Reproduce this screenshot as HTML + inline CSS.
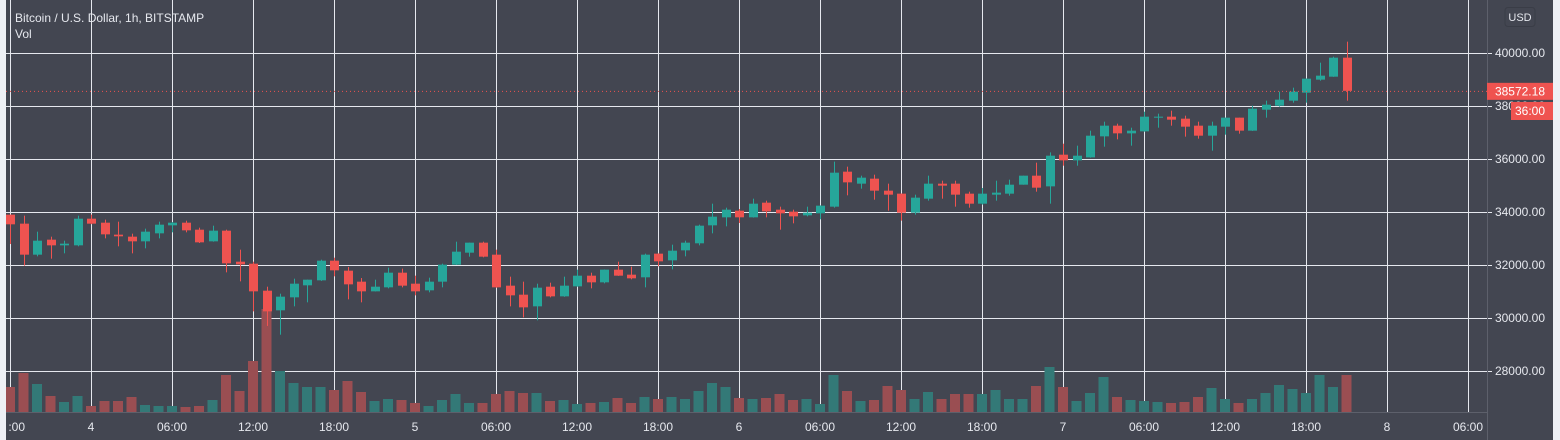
<!DOCTYPE html>
<html><head><meta charset="utf-8">
<style>
html,body{margin:0;padding:0;background:#434651;}
#wrap{position:relative;width:1560px;height:440px;overflow:hidden;background:#434651;font-family:"Liberation Sans",sans-serif;}
svg{position:absolute;left:0;top:0;}
</style></head>
<body>
<div id="wrap">
<svg id="chart" width="1560" height="440"></svg>
</div>
<script>
const priceTicks=[40000,38000,36000,34000,32000,30000,28000];
const timeLabels=["18:00","4","06:00","12:00","18:00","5","06:00","12:00","18:00","6","06:00","12:00","18:00","7","06:00","12:00","18:00","8","06:00"];
const openP=[33900,33560,32390,32956,32742,32742,33748,33597,33145,33069,
32893,33195,33497,33597,33333,32893,33296,32125,32050,31031,
30290,30780,31233,31421,32163,31786,31371,31006,31157,31710,
31295,31044,31371,32013,32465,32843,32390,31220,30880,30440,
31182,30817,31195,31597,31346,31824,31635,31535,32428,32176,
32553,32818,33497,33799,34050,33799,34352,34088,34012,33874,
33950,34201,35522,35069,35258,34805,34692,33975,34503,35069,
35069,34692,34314,34654,34692,35031,35371,34968,36163,35949,
36062,36855,37258,36968,37044,37580,37597,37522,37258,36880,
37220,37560,37069,37861,38012,38201,38503,38994,39107,39824];
const closeP=[33535,32390,32918,32742,32805,33748,33560,33157,33082,32893,
33258,33522,33597,33308,32855,33296,32063,32025,31006,30251,
30805,31295,31446,32163,31799,31270,31006,31182,31710,31220,
31006,31371,32013,32503,32843,32314,31157,30855,30402,31144,
30817,31220,31597,31346,31824,31597,31497,32390,32138,32540,
32843,33484,33824,34088,33799,34314,34025,33950,33836,33975,
34239,35484,35119,35296,34805,34654,33975,34541,35069,34994,
34654,34314,34692,34730,35031,35371,34918,36125,35949,36125,
36880,37258,36968,37069,37597,37597,37484,37220,36880,37258,
37560,37069,37899,38050,38239,38541,39031,39145,39824,38572.18];
const highP=[33900,33862,33258,33069,32918,33862,33900,33711,33635,33182,
33371,33635,33620,33673,33409,33484,33333,32578,32125,31182,
30918,31484,31446,32200,32276,31925,31509,31446,31899,31862,
31597,31522,32050,32880,32843,32880,32578,31560,31371,31295,
31333,31560,31824,31710,31830,32125,31937,32428,32440,32767,
32918,33522,34314,34163,34113,34503,34428,34201,34088,34201,
34250,35900,35711,35371,35409,35069,34700,34654,35371,35182,
35182,34767,34905,35182,35220,35371,35862,36250,36578,36503,
37069,37409,37333,37182,37786,37711,37824,37635,37409,37409,
37560,37560,38012,38201,38541,38692,39040,39635,39862,40428];
const lowP=[32792,31975,32327,32239,32440,32705,33540,33006,32705,32440,
32629,33006,33233,33233,32830,32880,31723,31383,30251,29700,
29370,30440,30591,31400,31572,30704,30591,31000,31119,31157,
30855,30969,31157,32000,32314,32289,31140,30440,30025,29912,
30780,30800,31180,31119,31308,31590,31459,31157,31950,31836,
32327,32742,33195,33459,33585,33790,33799,33333,33572,33836,
33723,34163,34629,34880,34465,34050,33673,33900,34428,34503,
34201,34163,34280,34428,34616,35031,34767,34314,35748,35748,
36050,36465,36742,36503,37030,37182,37258,36843,36767,36314,
36918,36955,37060,37560,37975,38126,38126,38956,39100,38201];
const volumes=[1000,1560,1120,640,400,640,240,440,440,600,
280,240,240,200,240,480,1480,840,2040,4120,
1640,1160,1000,1000,880,1240,800,440,520,480,
360,240,480,720,360,360,720,840,760,760,
440,480,320,360,400,560,360,600,520,600,
520,840,1160,1000,560,520,560,720,480,520,
320,1480,840,440,480,1040,880,520,800,520,
720,720,720,880,520,520,1040,1800,1000,440,
760,1400,600,480,440,400,360,400,600,960,
520,360,520,760,1080,920,760,1480,1000,1480];

const NS="http://www.w3.org/2000/svg";
const svg=document.getElementById('chart');
const PL=6,PR=1487,BOT=412;
function yP(p){return 53+(40000-p)*53/2000;}
function xI(i){return 10+13.5*i;}
function yV(v){return BOT-v/40;}
function mk(tag,attrs,parent){const e=document.createElementNS(NS,tag);for(const k in attrs)e.setAttribute(k,attrs[k]);(parent||svg).appendChild(e);return e;}

const le=mk('rect',{x:0,y:0,width:6,height:440,fill:'#eef0f5'});


const re=mk('rect',{x:1553,y:0,width:7,height:440,fill:'#eef0f5'});



const defs=mk('defs',{});
const cp=mk('clipPath',{id:'pane'},defs);
mk('rect',{x:PL,y:0,width:PR-PL,height:440},cp);
const cp2=mk('clipPath',{id:'tpane'},defs);
mk('rect',{x:9,y:0,width:PR-9,height:440},cp2);

const grid=mk('g',{});


priceTicks.forEach(p=>{
  const l=mk('line',{x1:PL,x2:PR+5,y1:yP(p)+0.5,y2:yP(p)+0.5,stroke:'#e6e8ee','stroke-width':1},grid);
  
  
});
timeLabels.forEach((t,k)=>{
  const x=Math.round(xI(k*6))+0.5;
  if(x>PR) return;
  const l=mk('line',{x1:x,x2:x,y1:0,y2:BOT,stroke:'#e6e8ee','stroke-width':1},grid);
  
  
});

const vg=mk('g',{'clip-path':'url(#pane)'});


volumes.forEach((v,i)=>{
  const up=closeP[i]>=openP[i];
  const r=mk('rect',{x:xI(i)-5,y:yV(v),width:10,height:BOT-yV(v),fill:up?'#337977':'#9a4e52'},vg);
  
  
});

const cg=mk('g',{'clip-path':'url(#pane)'});


openP.forEach((o,i)=>{
  const c=closeP[i],up=c>=o,col=up?'#26a69a':'#ef5350';
  const x=Math.round(xI(i));
  const w=mk('rect',{x:x,y:yP(highP[i]),width:1,height:Math.max(1,yP(lowP[i])-yP(highP[i])),fill:col},cg);
  
  
  const top=yP(Math.max(o,c)),bh=Math.max(1,Math.abs(yP(o)-yP(c)));
  const b=mk('rect',{x:x-4,y:top,width:9,height:bh,fill:col},cg);
  
  
});

const lastP=closeP[closeP.length-1];
const lp=mk('line',{x1:PL,x2:PR,y1:yP(lastP)+0.5,y2:yP(lastP)+0.5,stroke:'#ef5350','stroke-width':1,'stroke-dasharray':'1,3'});



const ax=mk('line',{x1:PR+0.5,x2:PR+0.5,y1:0,y2:440,stroke:'#5d606b','stroke-width':1});


const bx=mk('line',{x1:PL,x2:PR,y1:BOT+0.5,y2:BOT+0.5,stroke:'#5d606b','stroke-width':1});



priceTicks.forEach(p=>{
  const t=mk('text',{x:1545,y:yP(p)+4,'text-anchor':'end','font-size':12,fill:'#e6e8ee'});
  t.textContent=p.toFixed(2);
  
  
});
const tg=mk('g',{'clip-path':'url(#tpane)'});
timeLabels.forEach((s,k)=>{
  const t=mk('text',{x:xI(k*6),y:431,'text-anchor':'middle','font-size':12,fill:'#e6e8ee'},tg);
  t.textContent=s;
  
  
});

const tagg=mk('g',{});


mk('rect',{x:1487,y:yP(lastP)-8,width:66,height:17,fill:'#ef5350'},tagg);
const lt=mk('text',{x:1545,y:yP(lastP)+4.5,'text-anchor':'end','font-size':12,fill:'#ffffff'},tagg);
lt.textContent=lastP.toFixed(2);
const cdg=mk('g',{});


mk('rect',{x:1511,y:102,width:42,height:18,fill:'#ef5350'},cdg);
const ct=mk('text',{x:1545,y:115,'text-anchor':'end','font-size':12,fill:'#ffffff'},cdg);
ct.textContent='36:00';

const ub=mk('g',{});


mk('rect',{x:1505,y:7.5,width:30,height:19,rx:3,fill:'#434651',stroke:'#3a3d47'},ub);
const ut=mk('text',{x:1520,y:21,'text-anchor':'middle','font-size':11,fill:'#e6e8ee'},ub);
ut.textContent='USD';

const tt=mk('text',{x:15,y:22,'font-size':12,fill:'#e6e8ee'});
tt.textContent='Bitcoin / U.S. Dollar, 1h, BITSTAMP';


const vt=mk('text',{x:15,y:38,'font-size':12,fill:'#e6e8ee'});
vt.textContent='Vol';


</script>
</body></html>
